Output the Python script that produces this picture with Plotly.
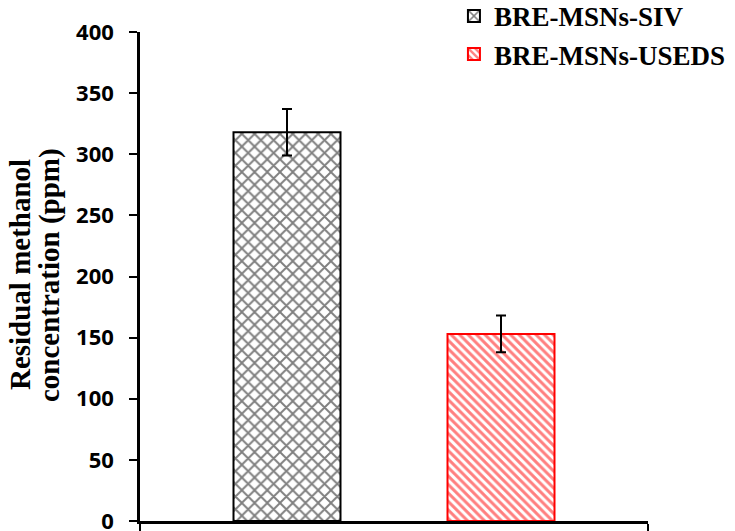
import plotly.graph_objects as go

category = [""]
series_names = ["BRE-MSNs-SIV", "BRE-MSNs-USEDS"]
values_siv = [318]
errors_siv = [19]
values_useds = [153]
errors_useds = [15]
y_title_lines = ["Residual methanol", "concentration (ppm)"]

fig = go.Figure()
fig.add_trace(go.Bar(
    x=category, y=values_siv, name=series_names[0],
    marker=dict(color="white", line=dict(color="black", width=2),
                pattern=dict(shape="x", fgcolor="black", bgcolor="white", size=9, solidity=0.38)),
    error_y=dict(type="data", array=errors_siv, color="black", thickness=2, width=5),
))
fig.add_trace(go.Bar(
    x=category, y=values_useds, name=series_names[1],
    marker=dict(color="white", line=dict(color="#ff0000", width=2),
                pattern=dict(shape="\\", fgcolor="#ff0000", bgcolor="white", size=6, solidity=0.5)),
    error_y=dict(type="data", array=errors_useds, color="black", thickness=2, width=5),
))

title_font = dict(family="Liberation Serif", size=29, color="black", weight="bold")
for xpos, line in zip([-0.2362, -0.1791], y_title_lines):
    fig.add_annotation(text=line, xref="paper", yref="paper", x=xpos, y=0.503,
                       xanchor="center", yanchor="middle", textangle=-90,
                       showarrow=False, font=title_font)

fig.update_layout(
    width=727, height=523,
    margin=dict(l=132, r=87, t=24, b=10, autoexpand=False),
    paper_bgcolor="white", plot_bgcolor="white",
    barmode="group", bargap=0.1575, bargroupgap=0.5,
    showlegend=True,
    legend=dict(x=0.618, y=1.082, xanchor="left", yanchor="top",
                font=dict(family="Liberation Serif", size=27, color="black", weight="bold"),
                tracegroupgap=0, bgcolor="rgba(0,0,0,0)"),
    xaxis=dict(range=[-0.5, 0.5], showline=True, linecolor="black", linewidth=2.5,
               ticks="outside", tickson="boundaries", ticklen=7, tickwidth=2, tickcolor="black",
               showticklabels=False, showgrid=False, zeroline=False),
    yaxis=dict(range=[0, 400], dtick=50, showline=True, linecolor="black", linewidth=2.5,
               ticks="outside", ticklen=8, tickwidth=2, tickcolor="black",
               ticklabelstandoff=11, ticklabeloverflow="allow",
               tickfont=dict(family="Open Sans", size=22, color="black", weight="bold"),
               showgrid=False, zeroline=False),
)

fig.write_html("out.html")
